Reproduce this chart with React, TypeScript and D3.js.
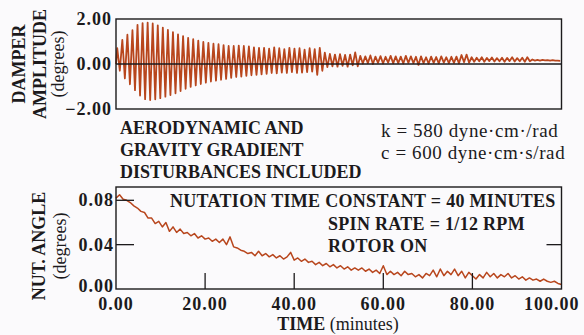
import { useRef, useEffect } from "react";
import * as d3 from "d3";

// damper amplitude: upper peaks and lower troughs, one pair per oscillation cycle (degrees)
const damperUpper = [
  0.70, 1.07, 1.30, 1.50, 1.74, 1.82, 1.84, 1.80, 1.72, 1.62,
  1.52, 1.42, 1.32, 1.24, 1.16, 1.10, 1.04, 0.98, 0.94, 0.90,
  0.88, 0.84, 0.80, 0.80, 0.82, 0.80, 0.78, 0.74, 0.72,
  0.72, 0.68, 0.74, 0.70, 0.66, 0.72, 0.68, 0.70, 0.64, 0.70, 0.66, 0.72,
  0.50, 0.45, 0.42, 0.44, 0.40, 0.42, 0.52,
  0.36, 0.34, 0.38, 0.33, 0.35, 0.32, 0.36, 0.34, 0.33, 0.36, 0.34,
  0.32, 0.34, 0.30, 0.33, 0.31, 0.34, 0.30, 0.32, 0.33, 0.40, 0.42,
  0.30, 0.28, 0.30, 0.27, 0.29, 0.26, 0.28, 0.27, 0.30, 0.26, 0.28,
  0.30, 0.20, 0.18, 0.18, 0.17, 0.17, 0.15,
];
const damperLower = [
  -0.30, -0.64, -0.90, -1.16, -1.40, -1.56, -1.60, -1.57, -1.52, -1.45,
  -1.38, -1.30, -1.20, -1.10, -1.02, -0.95, -0.89, -0.83, -0.78, -0.74,
  -0.70, -0.66, -0.62, -0.58, -0.56, -0.53, -0.50, -0.48, -0.46,
  -0.44, -0.40, -0.42, -0.38, -0.40, -0.36, -0.40, -0.38, -0.36, -0.34, -0.48, -0.30,
  -0.14, -0.10, -0.12, -0.08, -0.12, -0.06, -0.10,
  0.02, 0.04, 0.00, 0.05, 0.02, 0.06, 0.03, 0.04, 0.02, 0.05, 0.04,
  -0.04, 0.04, 0.02, 0.05, 0.03, 0.06, 0.04, 0.05, 0.03, 0.08, 0.06,
  0.10, 0.12, 0.10, 0.13, 0.11, 0.12, 0.10, 0.13, 0.11, 0.12, 0.10,
  0.12, 0.15, 0.15, 0.16, 0.15, 0.15, 0.14,
];

// nutation angle sampled every 0.8 minutes (degrees)
const nutation = [
  0.082, 0.085, 0.081, 0.080, 0.078, 0.075, 0.073, 0.070, 0.069, 0.064,
  0.064, 0.059, 0.061, 0.056, 0.060, 0.052, 0.056, 0.051, 0.054, 0.050,
  0.051, 0.048, 0.050, 0.046, 0.048, 0.045, 0.046, 0.043, 0.045, 0.042,
  0.045, 0.040, 0.047, 0.038, 0.037, 0.035, 0.034, 0.032, 0.033, 0.030,
  0.034, 0.030, 0.032, 0.029, 0.031, 0.028, 0.030, 0.027, 0.029, 0.033,
  0.026, 0.028, 0.025, 0.027, 0.024, 0.025, 0.022, 0.024, 0.021, 0.023,
  0.020, 0.022, 0.019, 0.021, 0.018, 0.020, 0.017, 0.019, 0.017, 0.019,
  0.016, 0.018, 0.015, 0.017, 0.014, 0.021, 0.013, 0.016, 0.013, 0.015,
  0.012, 0.016, 0.013, 0.014, 0.011, 0.013, 0.010, 0.014, 0.012, 0.017,
  0.011, 0.018, 0.012, 0.016, 0.013, 0.018, 0.012, 0.016, 0.010, 0.015,
  0.012, 0.009, 0.013, 0.010, 0.015, 0.011, 0.014, 0.010, 0.013, 0.011,
  0.014, 0.010, 0.012, 0.009, 0.011, 0.008, 0.010, 0.008, 0.009, 0.007,
  0.009, 0.007, 0.006, 0.007, 0.005, 0.004,
];

const timeTicks = [0, 20, 40, 60, 80, 100];
const damperTicks = [2, 0, -2];
const nutTicks = [0.08, 0.04, 0];
const disturbanceNote = ["AERODYNAMIC AND", "GRAVITY GRADIENT", "DISTURBANCES INCLUDED"];
const gainNote = ["k = 580 dyne·cm·/rad", "c = 600 dyne·cm·s/rad"];
const nutNote = ["NUTATION TIME CONSTANT = 40 MINUTES", "SPIN RATE = 1/12 RPM", "ROTOR ON"];

const W = 584;
const H = 335;
const LINE = "#b8461d";
const INK = "#1c1a1c";
const FONT = "'Liberation Serif', 'Times New Roman', serif";

export default function App() {
  const svgRef = useRef(null);

  useEffect(() => {
    const svg = d3.select(svgRef.current);
    svg.selectAll("*").remove();

    const x = d3.scaleLinear().domain([0, 100]).range([116, 561.5]);
    const yTop = d3.scaleLinear().domain([-2, 2]).range([109, 19]);
    const yBot = d3.scaleLinear().domain([0, 0.092]).range([289, 187]);

    svg.append("rect").attr("width", W).attr("height", H).attr("fill", "#fbfafc");

    // ---- top panel: damper amplitude
    const period = 100 / damperUpper.length;
    const damperPts: [number, number][] = [[0, 0]];
    damperUpper.forEach((u, i) => {
      damperPts.push([(i + 0.25) * period, u]);
      damperPts.push([(i + 0.75) * period, damperLower[i]]);
    });

    const lineTop = d3.line<[number, number]>()
      .x(d => x(d[0]))
      .y(d => yTop(d[1]));

    svg.append("path")
      .attr("d", lineTop(damperPts))
      .attr("fill", "none")
      .attr("stroke", LINE)
      .attr("stroke-width", 1.8)
      .attr("stroke-linejoin", "round");

    svg.append("line")
      .attr("x1", x(0)).attr("x2", x(100))
      .attr("y1", yTop(0)).attr("y2", yTop(0))
      .attr("stroke", INK).attr("stroke-width", 1.6);

    svg.append("rect")
      .attr("x", x(0)).attr("y", yTop(2))
      .attr("width", x(100) - x(0)).attr("height", yTop(-2) - yTop(2))
      .attr("fill", "none").attr("stroke", INK).attr("stroke-width", 1.4);

    svg.append("g").selectAll("text").data(damperTicks).join("text")
      .attr("x", 112)
      .attr("y", d => yTop(d) + 6)
      .attr("text-anchor", "end")
      .attr("font-family", FONT).attr("font-weight", "bold").attr("font-size", 18)
      .attr("letter-spacing", 1)
      .attr("fill", INK)
      .text(d => (d < 0 ? "\u2212" : "") + Math.abs(d).toFixed(2));

    const yTitle = (label: string, tx: number, ty: number, bold: boolean) =>
      svg.append("text")
        .attr("transform", `translate(${tx},${ty}) rotate(-90)`)
        .attr("text-anchor", "middle")
        .attr("font-family", FONT).attr("font-size", 18)
        .attr("font-weight", bold ? "bold" : "normal")
        .attr("fill", INK)
        .text(label);

    yTitle("DAMPER", 25, 64, true);
    yTitle("AMPLITUDE", 46, 64, true);
    yTitle("(degrees)", 64, 64, false);

    // ---- notes between panels
    svg.append("g").selectAll("text").data(disturbanceNote).join("text")
      .attr("x", 120).attr("y", (_, i) => 134 + i * 22)
      .attr("font-family", FONT).attr("font-weight", "bold").attr("font-size", 18)
      .attr("fill", INK)
      .text(d => d);

    svg.append("g").selectAll("text").data(gainNote).join("text")
      .attr("x", 381).attr("y", (_, i) => 137 + i * 22)
      .attr("font-family", FONT).attr("font-size", 19)
      .attr("letter-spacing", 0.6)
      .attr("fill", INK)
      .text(d => d);

    // ---- bottom panel: nutation angle
    const step = 100 / (nutation.length - 1);
    const lineBot = d3.line<number>()
      .x((_, i) => x(i * step))
      .y(d => yBot(d));

    svg.append("path")
      .attr("d", lineBot(nutation))
      .attr("fill", "none")
      .attr("stroke", LINE)
      .attr("stroke-width", 1.5)
      .attr("stroke-linejoin", "round");

    svg.append("rect")
      .attr("x", x(0)).attr("y", yBot(0.092))
      .attr("width", x(100) - x(0)).attr("height", yBot(0) - yBot(0.092))
      .attr("fill", "none").attr("stroke", INK).attr("stroke-width", 1.4);

    const ticks = svg.append("g").attr("stroke", INK).attr("stroke-width", 1.3);
    timeTicks.slice(1, -1).forEach(t => {
      ticks.append("line").attr("x1", x(t)).attr("x2", x(t)).attr("y1", yBot(0)).attr("y2", yBot(0) - 16);
    });
    nutTicks.slice(0, 2).forEach(v => {
      ticks.append("line").attr("x1", x(0)).attr("x2", x(0) + 18).attr("y1", yBot(v)).attr("y2", yBot(v));
    });
    ticks.append("line").attr("x1", x(100) - 15).attr("x2", x(100)).attr("y1", yBot(0.04)).attr("y2", yBot(0.04));

    svg.append("g").selectAll("text").data(nutTicks).join("text")
      .attr("x", 114)
      .attr("y", d => Math.min(yBot(d), 286) + 6)
      .attr("text-anchor", "end")
      .attr("font-family", FONT).attr("font-weight", "bold").attr("font-size", 18)
      .attr("letter-spacing", 1)
      .attr("fill", INK)
      .text(d => d.toFixed(2));

    svg.append("g").selectAll("text").data(timeTicks).join("text")
      .attr("x", d => (d === 100 ? x(d) + 18 : x(d)))
      .attr("y", 310)
      .attr("text-anchor", d => (d === 100 ? "end" : "middle"))
      .attr("font-family", FONT).attr("font-weight", "bold").attr("font-size", 18)
      .attr("letter-spacing", 1)
      .attr("fill", INK)
      .text(d => d.toFixed(2));

    const xTitle = svg.append("text")
      .attr("x", 338).attr("y", 330)
      .attr("text-anchor", "middle")
      .attr("font-family", FONT).attr("font-size", 18)
      .attr("fill", INK);
    xTitle.append("tspan").attr("font-weight", "bold").text("TIME ");
    xTitle.append("tspan").text("(minutes)");

    yTitle("NUT. ANGLE", 45, 246, true);
    yTitle("(degrees)", 66, 246, false);

    svg.append("g").selectAll("text").data(nutNote).join("text")
      .attr("x", (_, i) => (i === 0 ? 170 : 328))
      .attr("y", (_, i) => [207, 230, 252][i])
      .attr("font-family", FONT).attr("font-weight", "bold").attr("font-size", 18)
      .attr("letter-spacing", 0.3)
      .attr("fill", INK)
      .text(d => d);
  }, []);

  return (
    <svg
      ref={svgRef}
      width={W}
      height={H}
      style={{ position: "absolute", left: 0, top: 0, display: "block" }}
    />
  );
}
